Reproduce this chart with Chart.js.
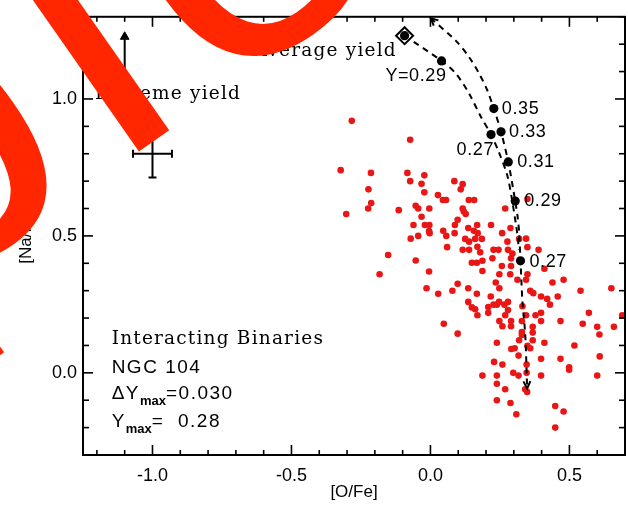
<!DOCTYPE html>
<html><head><meta charset="utf-8">
<script src="https://cdn.jsdelivr.net/npm/chart.js@4.4.0/dist/chart.umd.min.js"></script>
<style>html,body{margin:0;padding:0;background:#fff}canvas{display:block}</style>
</head><body>
<canvas id="c" width="628" height="505"></canvas>
<script>
// ---- observed stars: [O/Fe], [Na/Fe]
const starsOFe = [-0.283,-0.073,-0.323,-0.214,-0.083,-0.022,-0.073,-0.032,-0.223,-0.022,-0.213,-0.224,-0.053,-0.044,-0.114,-0.303,-0.004,-0.032,-0.061,-0.020,-0.004,-0.071,-0.044,-0.005,-0.152,-0.053,-0.183,-0.005,-0.014,
0.086,0.116,0.109,0.027,0.045,0.056,0.138,0.157,0.116,0.120,0.269,0.127,0.098,0.088,0.136,0.168,0.218,0.156,0.170,-0.003,0.046,0.057,0.087,0.258,0.288,0.349,0.125,0.139,0.161,0.185,0.277,0.319,0.349,0.389,0.060,0.116,0.139,0.227,0.245,0.279,
0.169,0.179,0.295,0.290,0.223,0.149,0.167,0.187,0.187,0.257,0.290,0.287,0.248,0.235,0.098,0.079,0.028,0.136,0.167,0.217,0.248,0.313,0.344,0.136,0.149,0.161,0.169,0.208,0.208,0.227,0.239,0.247,0.266,0.279,0.279,0.269,0.248,0.259,0.290,0.290,0.329,0.329,0.048,0.098,0.331,
0.410,0.359,0.370,0.344,0.439,0.479,0.540,0.651,0.349,0.398,0.420,0.430,0.458,0.378,0.398,0.398,0.368,0.570,0.690,0.468,0.548,0.600,0.660,0.344,
0.239,0.291,0.303,0.319,0.329,0.317,0.349,0.229,0.259,0.187,0.239,0.298,0.317,0.346,0.239,0.269,0.341,0.348,0.239,0.288,0.309,0.346,0.368,0.368,0.359,0.410,0.518,0.608,0.609,0.600,0.398,0.468,0.499,0.499,0.398,0.449,0.479,0.449];
const starsNaFe = [0.920,0.851,0.740,0.730,0.730,0.721,0.700,0.690,0.670,0.659,0.620,0.600,0.610,0.600,0.594,0.580,0.600,0.570,0.540,0.540,0.540,0.490,0.500,0.518,0.430,0.410,0.360,0.370,0.309,
0.700,0.689,0.670,0.649,0.631,0.631,0.631,0.631,0.600,0.589,0.600,0.580,0.559,0.540,0.529,0.540,0.540,0.519,0.510,0.510,0.519,0.500,0.510,0.510,0.529,0.635,0.489,0.479,0.489,0.489,0.479,0.489,0.459,0.449,0.459,0.449,0.449,0.449,0.449,0.449,
0.460,0.440,0.436,0.418,0.418,0.402,0.402,0.409,0.372,0.390,0.390,0.360,0.360,0.330,0.325,0.300,0.289,0.309,0.289,0.279,0.309,0.340,0.340,0.259,0.239,0.232,0.210,0.240,0.219,0.249,0.249,0.259,0.249,0.259,0.229,0.210,0.189,0.170,0.170,0.189,0.189,0.149,0.179,0.143,0.243,
0.380,0.300,0.291,0.490,0.330,0.340,0.300,0.309,0.360,0.279,0.270,0.249,0.279,0.210,0.219,0.189,0.168,0.219,0.210,0.189,0.179,0.168,0.168,0.210,
0.110,0.087,0.090,0.119,0.138,0.063,0.099,0.040,0.030,-0.010,-0.010,0.000,-0.010,0.000,-0.040,-0.060,-0.060,-0.070,-0.100,-0.110,-0.151,0.030,0.147,0.119,0.090,0.110,0.100,0.140,0.060,-0.010,0.051,0.051,0.020,0.011,-0.010,-0.121,-0.141,-0.200];

// ---- model tracks
const extremeOFe  = [0.001,0.091,0.139,0.175,0.204,0.228,0.254,0.280,0.305,0.313,0.319,0.324,0.331,0.341,0.348];
const extremeNaFe = [1.295,1.213,1.153,1.093,1.033,0.965,0.880,0.770,0.627,0.575,0.514,0.409,0.261,0.141,-0.057];
const averageOFe  = [-0.093,0.040,0.091,0.139,0.181,0.218,0.247,0.277,0.295,0.313,0.318];
const averageNaFe = [1.231,1.139,1.093,1.020,0.936,0.870,0.804,0.719,0.623,0.504,0.450];
// labelled model points (helium abundance Y)
const modelOFe    = [0.040,0.228,0.254,0.218,0.280,0.305,0.324];
const modelNaFe   = [1.139,0.965,0.880,0.870,0.770,0.627,0.409];
const modelLabels = ['Y=0.29','0.35','0.33','0.27','0.31','0.29','0.27'];
const startOFe = [-0.093], startNaFe = [1.231];
// error bar and arrow
const errOFe = -1.0, errNaFe = 0.80, errDx = 0.07, errDy = 0.087;
const arrowOFe = -1.1, arrowNaFe = [1.08, 1.227];
// axes
const xTickValues = [-1.0,-0.5,0.0,0.5], xTickLabels = ['-1.0','-0.5','0.0','0.5'];
const yTickValues = [0.0,0.5,1.0],      yTickLabels = ['0.0','0.5','1.0'];
// text annotations [O/Fe],[Na/Fe] anchors
const noteTexts = ['Average yield','Extreme yield','Interacting Binaries','NGC 104'];
const noteOFe   = [-0.121,-0.681,-1.147,-1.147];
const noteNaFe  = [1.176,1.017,0.123,0.019];
const deltaYmax = '0.030', Ymax = '0.28';
const deltaOFe = -1.147, deltaNaFe = -0.078, ymaxNaFe = -0.180;
const watermark = 'Sample';

const pts = (xs, ys) => xs.map((v,i)=>({x:v,y:ys[i]}));
const SANS = '"Liberation Sans", Arial, sans-serif';
const SERIF = '"DejaVu Serif", serif';

const labelStyle = [
  {dx:5, dy:15, align:'right'}, {dx:8, dy:0, align:'left'}, {dx:8, dy:0, align:'left'},
  {dx:3, dy:15, align:'right'}, {dx:9, dy:0, align:'left'}, {dx:9, dy:0, align:'left'},
  {dx:9, dy:1, align:'left'}];

const decor = {
  id:'decor',
  afterDatasetsDraw(chart){
    const {ctx, chartArea:a, scales:{x,y}} = chart;
    ctx.save();
    ctx.strokeStyle='#000'; ctx.fillStyle='#000';
    ctx.lineWidth=2;
    ctx.strokeRect(a.left, a.top, a.right-a.left, a.bottom-a.top);
    ctx.lineWidth=1.6;
    const seg=(x1,y1,x2,y2)=>{ctx.beginPath();ctx.moveTo(x1,y1);ctx.lineTo(x2,y2);ctx.stroke();};
    for(let i=Math.ceil(x.min*10-1e-9); i<=Math.floor(x.max*10+1e-9); i++){
      const p=x.getPixelForValue(i/10), L=(i%5===0)?10:5;
      seg(p,a.bottom,p,a.bottom-L); seg(p,a.top,p,a.top+L);
    }
    for(let i=Math.ceil(y.min*10-1e-9); i<=Math.floor(y.max*10+1e-9); i++){
      const p=y.getPixelForValue(i/10), L=(i%5===0)?10:6;
      seg(a.left,p,a.left+L,p); seg(a.right,p,a.right-L,p);
    }
    // arrowheads on extreme track
    const head=(xa,ya,xb,yb)=>{
      const ang=Math.atan2(yb-ya,xb-xa), s=8, w=0.45;
      ctx.lineWidth=2;
      ctx.beginPath();
      ctx.moveTo(xb-s*Math.cos(ang-w), yb-s*Math.sin(ang-w));
      ctx.lineTo(xb,yb);
      ctx.lineTo(xb-s*Math.cos(ang+w), yb-s*Math.sin(ang+w));
      ctx.stroke();
    };
    const n=extremeOFe.length;
    head(x.getPixelForValue(extremeOFe[1]),y.getPixelForValue(extremeNaFe[1]),x.getPixelForValue(extremeOFe[0]),y.getPixelForValue(extremeNaFe[0]));
    head(x.getPixelForValue(extremeOFe[n-2]),y.getPixelForValue(extremeNaFe[n-2]),x.getPixelForValue(extremeOFe[n-1]),y.getPixelForValue(extremeNaFe[n-1]));
    // model labels
    ctx.font='18px '+SANS; ctx.textBaseline='middle'; ctx.letterSpacing='0.6px';
    modelLabels.forEach((t,i)=>{
      const st=labelStyle[i];
      ctx.textAlign=st.align;
      ctx.fillText(t, x.getPixelForValue(modelOFe[i])+st.dx, y.getPixelForValue(modelNaFe[i])+st.dy);
    });
    // annotations
    ctx.letterSpacing='1.2px';
    ctx.textAlign='right'; ctx.font='18.5px '+SERIF;
    ctx.fillText(noteTexts[0], x.getPixelForValue(noteOFe[0]), y.getPixelForValue(noteNaFe[0]));
    ctx.fillText(noteTexts[1], x.getPixelForValue(noteOFe[1]), y.getPixelForValue(noteNaFe[1]));
    ctx.textAlign='left';
    ctx.fillText(noteTexts[2], x.getPixelForValue(noteOFe[2]), y.getPixelForValue(noteNaFe[2]));
    ctx.letterSpacing='1.5px';
    ctx.font='19px '+SANS;
    ctx.fillText(noteTexts[3], x.getPixelForValue(noteOFe[3]), y.getPixelForValue(noteNaFe[3]));
    const sub=(parts, px, py)=>{
      let cx=px;
      parts.forEach(([t,isSub])=>{
        ctx.letterSpacing=isSub?'0px':'1.5px';
        ctx.font=isSub?'bold 13px '+SANS:'19px '+SANS;
        ctx.fillText(t, cx, py+(isSub?7:0));
        cx+=ctx.measureText(t).width;
      });
    };
    sub([['\u0394Y',0],['max',1],['='+deltaYmax,0]], x.getPixelForValue(deltaOFe), y.getPixelForValue(deltaNaFe));
    sub([['Y',0],['max',1],['=  '+Ymax,0]], x.getPixelForValue(deltaOFe), y.getPixelForValue(ymaxNaFe));
    ctx.restore();
  },
  afterDraw(chart){
    // large diagonal watermark over the figure
    const ctx=chart.ctx;
    const gaps=[20,20,20,29,26,0]; // spacing after each letter
    ctx.save();
    ctx.translate(154,141);
    ctx.rotate(-35*Math.PI/180);
    ctx.font='420px "Liberation Sans", Arial, sans-serif';
    ctx.letterSpacing='0px';
    ctx.fillStyle='#ff2600';
    ctx.textBaseline='alphabetic'; ctx.textAlign='left';
    const chars=[...watermark], li=watermark.indexOf('l');
    let pre=0; for(let i=0;i<li;i++) pre+=ctx.measureText(chars[i]).width+gaps[i];
    let cx=-(pre+ctx.measureText('l').width/2);
    chars.forEach((ch,i)=>{ ctx.fillText(ch,cx,0); cx+=ctx.measureText(ch).width+gaps[i]; });
    ctx.restore();
  }
};

new Chart(document.getElementById('c'), {
  type:'scatter',
  data:{datasets:[
    {data:pts(modelOFe,modelNaFe).concat(pts(startOFe,startNaFe)), pointRadius:4.6, pointBackgroundColor:'#000', pointBorderWidth:0, order:0},
    {data:pts(startOFe,startNaFe), pointStyle:'rectRot', pointRadius:8.5, pointBackgroundColor:'#fff', pointBorderColor:'#000', pointBorderWidth:2, order:1},
    {data:pts(extremeOFe,extremeNaFe), showLine:true, borderColor:'#000', borderWidth:2, borderDash:[6,5], tension:0.3, pointRadius:0, order:2},
    {data:pts(averageOFe,averageNaFe), showLine:true, borderColor:'#000', borderWidth:2, borderDash:[6,5], tension:0.3, pointRadius:0, order:2},
    {data:[{x:errOFe-errDx,y:errNaFe},{x:errOFe+errDx,y:errNaFe}], showLine:true, borderColor:'#000', borderWidth:2, pointStyle:'line', rotation:90, pointRadius:4, pointBorderColor:'#000', pointBorderWidth:2, order:3},
    {data:[{x:errOFe,y:errNaFe-errDy},{x:errOFe,y:errNaFe+errDy}], showLine:true, borderColor:'#000', borderWidth:2, pointStyle:'line', rotation:0, pointRadius:4, pointBorderColor:'#000', pointBorderWidth:2, order:3},
    {data:arrowNaFe.map(v=>({x:arrowOFe,y:v})), showLine:true, borderColor:'#000', borderWidth:2, pointStyle:'triangle', pointRadius:[0,5], pointBackgroundColor:'#000', pointBorderColor:'#000', pointBorderWidth:1, order:3},
    {data:pts(starsOFe,starsNaFe), pointRadius:3.3, pointBackgroundColor:'#ea1616', pointBorderWidth:0, order:10}
  ]},
  options:{
    responsive:false, animation:false, devicePixelRatio:1,
    layout:{autoPadding:false, padding:{left:0,right:3,top:13,bottom:0}},
    plugins:{legend:{display:false}, tooltip:{enabled:false}},
    scales:{
      x:{type:'linear', min:-1.25, max:0.7,
        afterFit(s){s.height=50;},
        afterBuildTicks(s){s.ticks=xTickValues.map(v=>({value:v}));},
        grid:{display:false, drawTicks:false}, border:{display:false},
        ticks:{callback:(v,i)=>xTickLabels[i], color:'#000', font:{family:SANS,size:18}, padding:10, maxRotation:0, autoSkip:false},
        title:{display:true, text:'[O/Fe]', color:'#000', font:{family:SANS,size:17}, padding:{top:0,bottom:2}}},
      y:{type:'linear', min:-0.3, max:1.3,
        afterFit(s){s.width=83;},
        afterBuildTicks(s){s.ticks=yTickValues.map(v=>({value:v}));},
        grid:{display:false, drawTicks:false}, border:{display:false},
        ticks:{callback:(v,i)=>yTickLabels[i], color:'#000', font:{family:SANS,size:18}, padding:6, autoSkip:false},
        title:{display:true, text:'[Na/Fe]', color:'#000', font:{family:SANS,size:17}, padding:{top:16,bottom:0}}}
    }
  },
  plugins:[decor]
});
</script>
</body></html>
